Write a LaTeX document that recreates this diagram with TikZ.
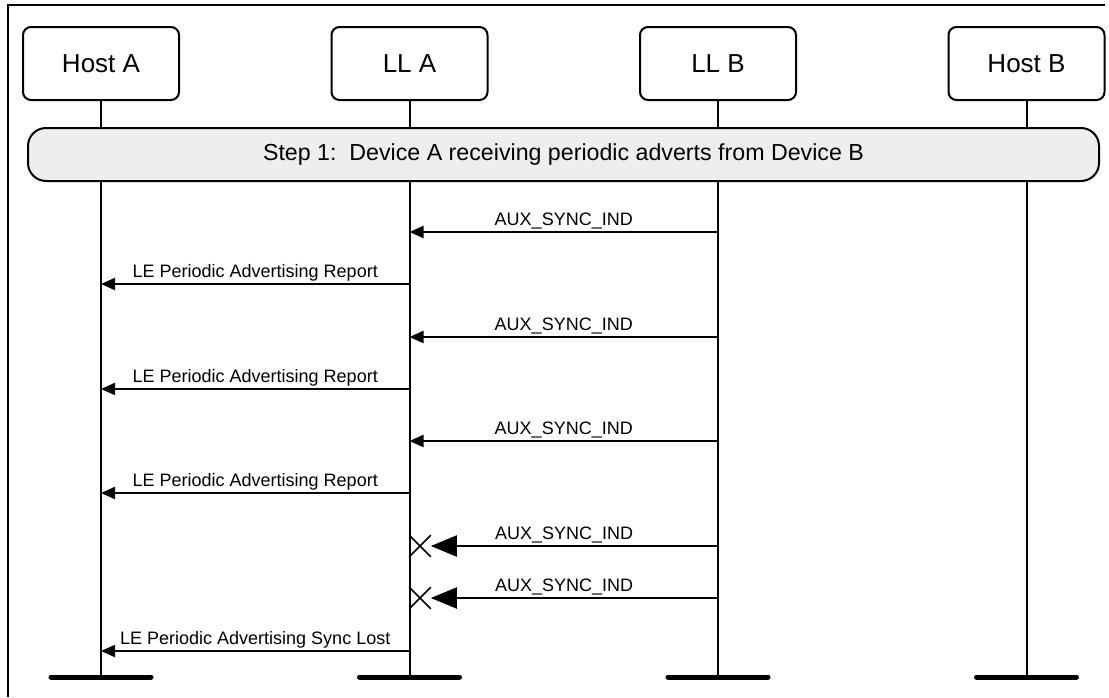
\documentclass[tikz,border=0pt]{standalone}
\usepackage{fontspec}
\setmainfont{Liberation Sans}
\usetikzlibrary{arrows.meta,positioning,shapes.misc}
\definecolor{stepgray}{RGB}{238,238,238}

\begin{document}
\begin{tikzpicture}[
  x=0.5pt, y=-0.5pt,
  entity/.style={draw, line width=1pt, rounded corners=4pt, minimum width=78pt,
    minimum height=36.5pt, inner sep=0pt, font=\fontsize{13}{15}\selectfont},
  stepbar/.style={draw, line width=1pt, fill=stepgray, rounded corners=9pt,
    minimum width=535.5pt, minimum height=26.5pt, inner sep=0pt,
    font=\fontsize{11.6}{13}\selectfont},
  life/.style={line width=1pt},
  endbar/.style={line width=2.5pt, line cap=round},
  msg/.style={line width=1pt, -{Triangle[length=7pt,width=6pt]}},
  lost/.style={line width=1pt, -{Triangle[length=13pt,width=10.5pt]}},
  lbl/.style={above, inner sep=1pt, font=\fontsize{9}{11}\selectfont},
  xmark/.style={cross out, draw, line width=0.8pt, minimum size=10pt, inner sep=0pt},
]
\useasboundingbox (0,0) rectangle (1109,697);

% Frame
\draw[line width=1pt] (8,697) -- (8,5) -- (1105,5);

% Entities
\node[entity] (hostA) at (101,63.5) {Host A};
\node[entity] (llA) at (409.5,63.5) {LL A};
\node[entity] (llB) at (718,63.5) {LL B};
\node[entity] (hostB) at (1026.5,63.5) {Host B};

% Lifelines and end bars
\foreach \e in {hostA,llA,llB,hostB} {
  \coordinate (\e end) at (\e |- 0,677);
  \draw[life] (\e.south) -- (\e end);
  \draw[endbar] ([xshift=-25pt]\e end) -- ([xshift=25pt]\e end);
}

% Step 1
\node[stepbar] (step) at (563.5,154.5)
  {Step 1:\ \ Device A receiving periodic adverts from Device B};

% Messages
\draw[msg] (llB |- 0,232) -- node[lbl] {AUX\_SYNC\_IND} (llA |- 0,232);
\draw[msg] (llA |- 0,284) -- node[lbl] {LE Periodic Advertising Report} (hostA |- 0,284);
\draw[msg] (llB |- 0,337) -- node[lbl] {AUX\_SYNC\_IND} (llA |- 0,337);
\draw[msg] (llA |- 0,389) -- node[lbl] {LE Periodic Advertising Report} (hostA |- 0,389);
\draw[msg] (llB |- 0,441) -- node[lbl] {AUX\_SYNC\_IND} (llA |- 0,441);
\draw[msg] (llA |- 0,493) -- node[lbl] {LE Periodic Advertising Report} (hostA |- 0,493);

% Lost packets
\node[xmark] (lost1) at (420,546) {};
\node[xmark] (lost2) at (420,598) {};
\draw[lost] (llB |- lost1) -- node[lbl, pos=0.536] {AUX\_SYNC\_IND} (lost1.east);
\draw[lost] (llB |- lost2) -- node[lbl, pos=0.536] {AUX\_SYNC\_IND} (lost2.east);

\draw[msg] (llA |- 0,651) -- node[lbl] {LE Periodic Advertising Sync Lost} (hostA |- 0,651);

\end{tikzpicture}
\end{document}
